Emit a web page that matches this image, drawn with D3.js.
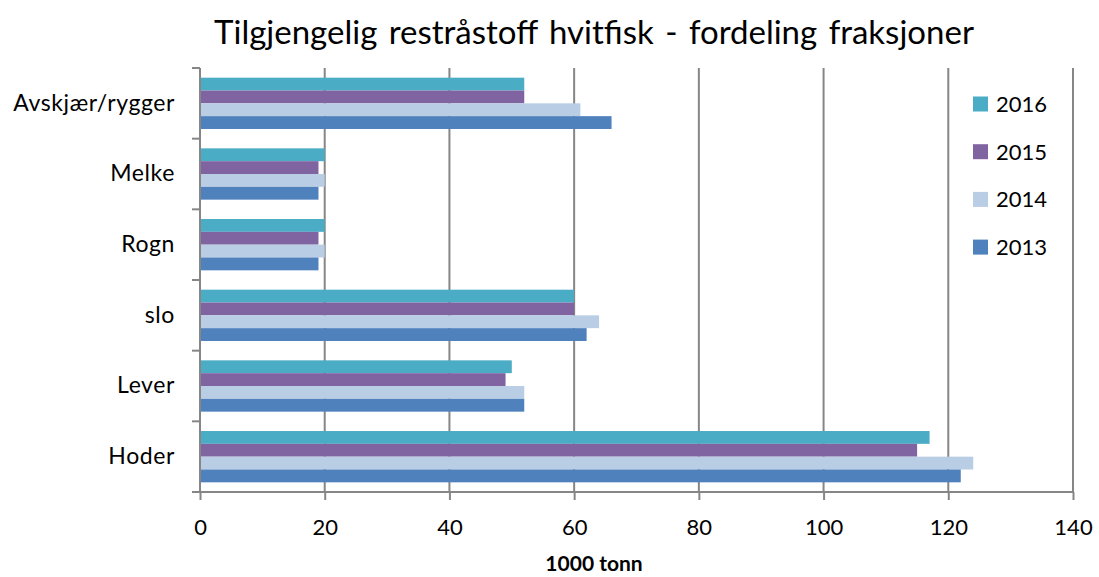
<!DOCTYPE html>
<html>
<head>
<meta charset="utf-8">
<script src="https://cdn.jsdelivr.net/npm/d3@7"></script>
<style>
  body { margin: 0; background: #fff; }
  text { font-family: Lato, "Open Sans", sans-serif; fill: #000; }
</style>
</head>
<body>
<div id="chart"></div>
<script>
// categories top to bottom, series in legend order
const categories = ["Avskjær/rygger", "Melke", "Rogn", "slo", "Lever", "Hoder"];
const years = ["2016", "2015", "2014", "2013"];
const values2016 = [52, 20, 20, 60, 50, 117];
const values2015 = [52, 19, 19, 60, 49, 115];
const values2014 = [61, 20, 20, 64, 52, 124];
const values2013 = [66, 19, 19, 62, 52, 122];
const xTicks = [0, 20, 40, 60, 80, 100, 120, 140];

const seriesValues = { "2016": values2016, "2015": values2015, "2014": values2014, "2013": values2013 };
const colors = { "2016": "#4BACC6", "2015": "#8064A2", "2014": "#B9CDE5", "2013": "#4F81BD" };

const width = 1099, height = 577;
const plot = { left: 200, right: 1073, top: 68, bottom: 492 };

const svg = d3.select('#chart')
    .append('svg')
    .attr('width', width)
    .attr('height', height);

const xScale = d3.scaleLinear().domain([0, 140]).range([plot.left, plot.right]);

const yScale = d3.scaleBand()
    .domain(categories)
    .range([plot.top, plot.bottom])
    .paddingInner(0.274)
    .paddingOuter(0.137);

const ySub = d3.scaleBand()
    .domain(years)
    .range([0, yScale.bandwidth()]);

// title
svg.append('text')
    .attr('x', 594)
    .attr('y', 44)
    .attr('text-anchor', 'middle')
    .style('font-size', '33px')
    .style('word-spacing', '3px')
    .text('Tilgjengelig restråstoff hvitfisk - fordeling fraksjoner');

// vertical gridlines
svg.append('g').attr('id', 'grid')
    .selectAll('line')
    .data(xTicks.slice(1))
    .enter()
    .append('line')
    .attr('x1', d => xScale(d))
    .attr('x2', d => xScale(d))
    .attr('y1', plot.top)
    .attr('y2', plot.bottom)
    .attr('stroke', '#868686')
    .attr('stroke-width', 2);

// bars
const data = [];
categories.forEach((c, i) => {
    years.forEach(y => data.push({ cat: c, year: y, value: seriesValues[y][i] }));
});

svg.append('g').attr('id', 'bars')
    .selectAll('rect')
    .data(data)
    .enter()
    .append('rect')
    .attr('x', xScale(0))
    .attr('y', d => yScale(d.cat) + ySub(d.year))
    .attr('width', d => xScale(d.value) - xScale(0))
    .attr('height', ySub.bandwidth())
    .attr('fill', d => colors[d.year]);

// x axis
const xAxisGroup = svg.append('g')
    .attr('transform', `translate(0, ${plot.bottom})`)
    .call(d3.axisBottom(xScale).tickValues(xTicks).tickSize(8).tickPadding(19).tickSizeOuter(0));
xAxisGroup.select('.domain').attr('stroke', '#868686').attr('stroke-width', 2)
    .attr('d', `M${plot.left - 8},0H${plot.right}`);
xAxisGroup.selectAll('.tick line').attr('stroke', '#868686').attr('stroke-width', 2);
xAxisGroup.selectAll('.tick text')
    .style('font-size', '22px')
    .style('font-family', 'Lato, sans-serif')
    .attr('fill', '#000');

// y axis (labels at band centres, ticks at band edges)
const yAxisGroup = svg.append('g')
    .attr('transform', `translate(${plot.left}, 0)`)
    .call(d3.axisLeft(yScale).tickSize(0).tickPadding(25));
yAxisGroup.select('.domain').attr('stroke', '#868686').attr('stroke-width', 2)
    .attr('d', `M0,${plot.top}V${plot.bottom}`);
yAxisGroup.selectAll('.tick text')
    .style('font-size', '23px')
    .style('letter-spacing', '0.6px')
    .style('font-family', 'Lato, sans-serif')
    .attr('fill', '#000');

yAxisGroup.append('g')
    .selectAll('line')
    .data(d3.range(categories.length + 1))
    .enter()
    .append('line')
    .attr('x1', -8)
    .attr('x2', 0)
    .attr('y1', i => plot.top + i * (plot.bottom - plot.top) / categories.length)
    .attr('y2', i => plot.top + i * (plot.bottom - plot.top) / categories.length)
    .attr('stroke', '#868686')
    .attr('stroke-width', 2);

// x axis title
svg.append('text')
    .attr('x', 594)
    .attr('y', 571)
    .attr('text-anchor', 'middle')
    .style('font-size', '21px')
    .style('font-weight', 'bold')
    .text('1000 tonn');

// legend
const legend = svg.append('g').attr('id', 'legend')
    .selectAll('g')
    .data(years)
    .enter()
    .append('g')
    .attr('transform', (d, i) => `translate(973, ${104 + i * 47.7})`);

legend.append('rect')
    .attr('x', 0)
    .attr('y', -7.5)
    .attr('width', 15)
    .attr('height', 15)
    .attr('fill', d => colors[d]);

legend.append('text')
    .attr('x', 23)
    .attr('y', 0)
    .attr('dy', '0.36em')
    .style('font-size', '22px')
    .text(d => d);
</script>
</body>
</html>
